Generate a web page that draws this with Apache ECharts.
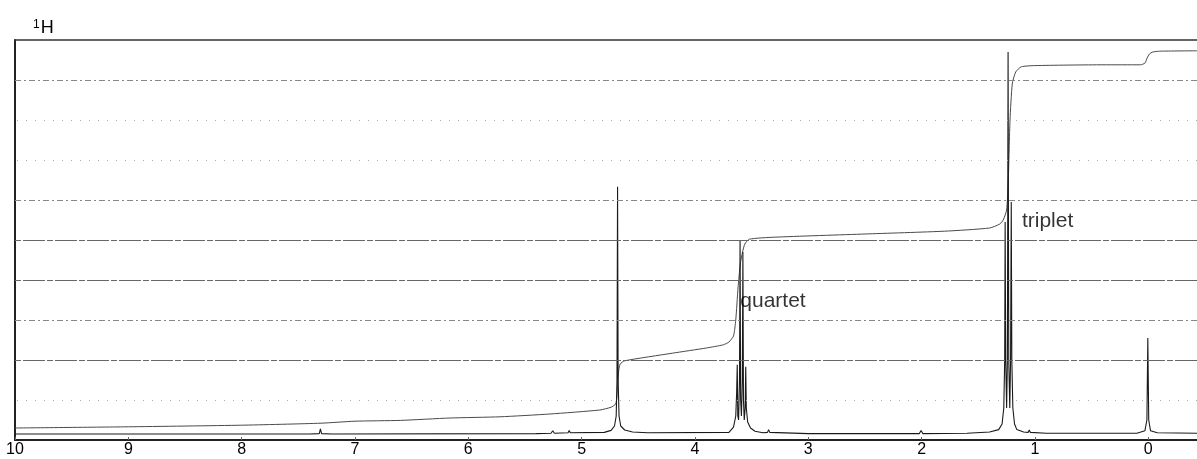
<!DOCTYPE html>
<html>
<head>
<meta charset="utf-8">
<title>1H NMR spectrum</title>
<script src="https://cdn.jsdelivr.net/npm/echarts@6/dist/echarts.min.js"></script>
<style>
  html, body { margin: 0; padding: 0; background: #ffffff; }
  #chart { width: 1197px; height: 459px; }
</style>
</head>
<body>
<div id="chart"></div>
<script>
// Chemical-shift tick labels (ppm), drawn right to left
const shiftTicks = [10, 9, 8, 7, 6, 5, 4, 3, 2, 1, 0];

// Spectrum trace: [ppm, intensity]
const spectrum = [
  [10.0, 1.5], [7.40, 1.5], [7.315, 1.6], [7.305, 2.8], [7.295, 1.6], [7.20, 1.5],
  [5.40, 1.6], [5.27, 1.7], [5.255, 2.3], [5.24, 1.7], [5.12, 1.8], [5.11, 2.4], [5.10, 1.8],
  [4.80, 1.9], [4.74, 2.4], [4.71, 3.5], [4.695, 6], [4.688, 15], [4.683, 63.3],
  [4.678, 15], [4.67, 6], [4.655, 3.5], [4.62, 2.5], [4.55, 2.0], [4.42, 1.8], [4.41, 2.2],
  [4.40, 1.8], [3.70, 1.9], [3.66, 3.2], [3.64, 6], [3.632, 12], [3.627, 18.8], [3.622, 6],
  [3.615, 5], [3.607, 15], [3.602, 50], [3.597, 10], [3.59, 6], [3.582, 15], [3.577, 47],
  [3.572, 10], [3.565, 5], [3.557, 8], [3.552, 18.3], [3.547, 8], [3.535, 4.5], [3.51, 3],
  [3.47, 2.2], [3.40, 1.8], [3.36, 1.9], [3.35, 2.6], [3.34, 1.9], [3.0, 1.6],
  [2.02, 1.6], [2.005, 2.4], [1.99, 1.6], [1.60, 1.7], [1.40, 2.0], [1.32, 2.6], [1.29, 4],
  [1.275, 8], [1.267, 20], [1.263, 54.5], [1.258, 20], [1.25, 8], [1.243, 20], [1.237, 97],
  [1.231, 20], [1.222, 8], [1.215, 20], [1.209, 59.5], [1.204, 20], [1.195, 8], [1.18, 4],
  [1.16, 2.6], [1.10, 2.0], [1.06, 1.9], [1.05, 2.5], [1.04, 1.9], [0.90, 1.7],
  [0.10, 1.7], [0.03, 2.3], [0.012, 5], [0.004, 25.5], [-0.004, 5], [-0.02, 2.3],
  [-0.08, 1.8], [-0.43, 1.7]
];

// Integral trace: [ppm, cumulative area]
const integral = [
  [10, 3.0], [9, 3.3], [8, 3.7], [7.3, 4.2], [7, 4.7], [6.6, 4.9], [6.16, 5.5], [5.72, 5.8],
  [5.28, 6.5], [4.84, 7.5], [4.74, 8.2], [4.70, 9.0], [4.688, 11], [4.68, 15], [4.672, 17.5],
  [4.66, 19], [4.62, 19.8], [4.2, 21.7], [3.9, 23.0], [3.75, 23.8], [3.70, 24.5], [3.66, 26],
  [3.64, 30], [3.62, 38], [3.60, 44], [3.58, 47], [3.56, 49], [3.52, 50.2], [3.3, 50.7],
  [2.5, 51.5], [1.8, 52.2], [1.4, 53], [1.31, 54], [1.28, 55], [1.25, 57.5], [1.235, 65],
  [1.22, 80], [1.20, 89], [1.17, 92], [1.12, 93.3], [1.0, 93.6], [0.4, 93.8], [0.07, 93.8],
  [0.03, 94.2], [0.01, 95.5], [-0.01, 96.5], [-0.04, 97.0], [-0.1, 97.2], [-0.43, 97.3]
];

// Chart-paper rulings (intensity units)
const rulings = [10, 20, 30, 40, 50, 60, 70, 80, 90];

// Multiplet annotations: [text, ppm, intensity]
const annotations = [
  ['quartet', 3.60, 34.8],
  ['triplet', 1.115, 54.8]
];

// Ruling appearance: photocopied paper grid, some rows crisp, some broken
const rulingLook = {
  10: 'dotted', 20: 'solid', 30: 'dashed', 40: 'solid', 50: 'solid',
  60: 'dashed', 70: 'dotted', 80: 'dotted', 90: 'dashed'
};
const lookStyle = {
  solid: { color: '#666', width: 1, type: [22, 2, 6, 2] },
  dashed: { color: '#888', width: 1, type: [6, 3, 2, 3] },
  dotted: { color: '#aaa', width: 1, type: [1, 8] }
};

const fontFamily = 'Liberation Sans, Arial, sans-serif';

const chart = echarts.init(document.getElementById('chart'), null, { renderer: 'canvas' });

chart.setOption({
  animation: false,
  backgroundColor: '#ffffff',
  title: {
    text: '{sup|1}{h|H}',
    left: 28,
    top: 14,
    textStyle: {
      fontWeight: 'normal',
      rich: {
        sup: { fontFamily, fontSize: 12, fontWeight: 'normal', color: '#000', verticalAlign: 'top', padding: [0, 1, 7, 0] },
        h: { fontFamily, fontSize: 18, fontWeight: 'normal', color: '#000' }
      }
    }
  },
  grid: { left: 15, top: 40, right: 0, height: 400, show: false },
  xAxis: [
    {
      type: 'value',
      inverse: true,
      min: -0.43,
      max: 10,
      axisLine: { show: true, onZero: false, lineStyle: { color: '#222', width: 2 } },
      axisTick: { show: true, inside: true, length: 3, lineStyle: { color: '#666' }, customValues: shiftTicks },
      axisLabel: {
        customValues: shiftTicks,
        color: '#000', fontFamily, fontSize: 16, margin: 2
      },
      splitLine: { show: false }
    },
    {
      // top frame of the chart paper
      type: 'value',
      position: 'top',
      inverse: true,
      min: -0.43,
      max: 10,
      axisLine: { show: true, onZero: false, lineStyle: { color: '#333', width: 1.5 } },
      axisTick: { show: false },
      axisLabel: { show: false },
      splitLine: { show: false }
    }
  ],
  yAxis: {
    type: 'value',
    min: 0,
    max: 100,
    axisLine: { show: true, onZero: false, lineStyle: { color: '#222', width: 2 } },
    axisTick: { show: false },
    axisLabel: { show: false },
    splitLine: { show: false }
  },
  series: [
    {
      name: 'rulings',
      type: 'line',
      data: [],
      silent: true,
      markLine: {
        silent: true,
        symbol: 'none',
        label: { show: false },
        data: rulings.map(v => ({ yAxis: v, lineStyle: lookStyle[rulingLook[v]] }))
      }
    },
    {
      name: 'integral',
      type: 'line',
      data: integral,
      symbol: 'none',
      smooth: 0.2,
      lineStyle: { color: '#4a4a4a', width: 1 },
      z: 3
    },
    {
      name: 'spectrum',
      type: 'line',
      data: spectrum,
      symbol: 'none',
      sampling: null,
      lineStyle: { color: '#1a1a1a', width: 1.1 },
      z: 4
    },
    {
      name: 'annotations',
      type: 'scatter',
      symbolSize: 0,
      data: annotations.map(a => ({ value: [a[1], a[2]], name: a[0] })),
      label: {
        show: true,
        position: 'right',
        distance: 0,
        formatter: p => p.name,
        color: '#000',
        fontFamily,
        fontSize: 21
      },
      z: 5
    }
  ]
});
</script>
</body>
</html>
